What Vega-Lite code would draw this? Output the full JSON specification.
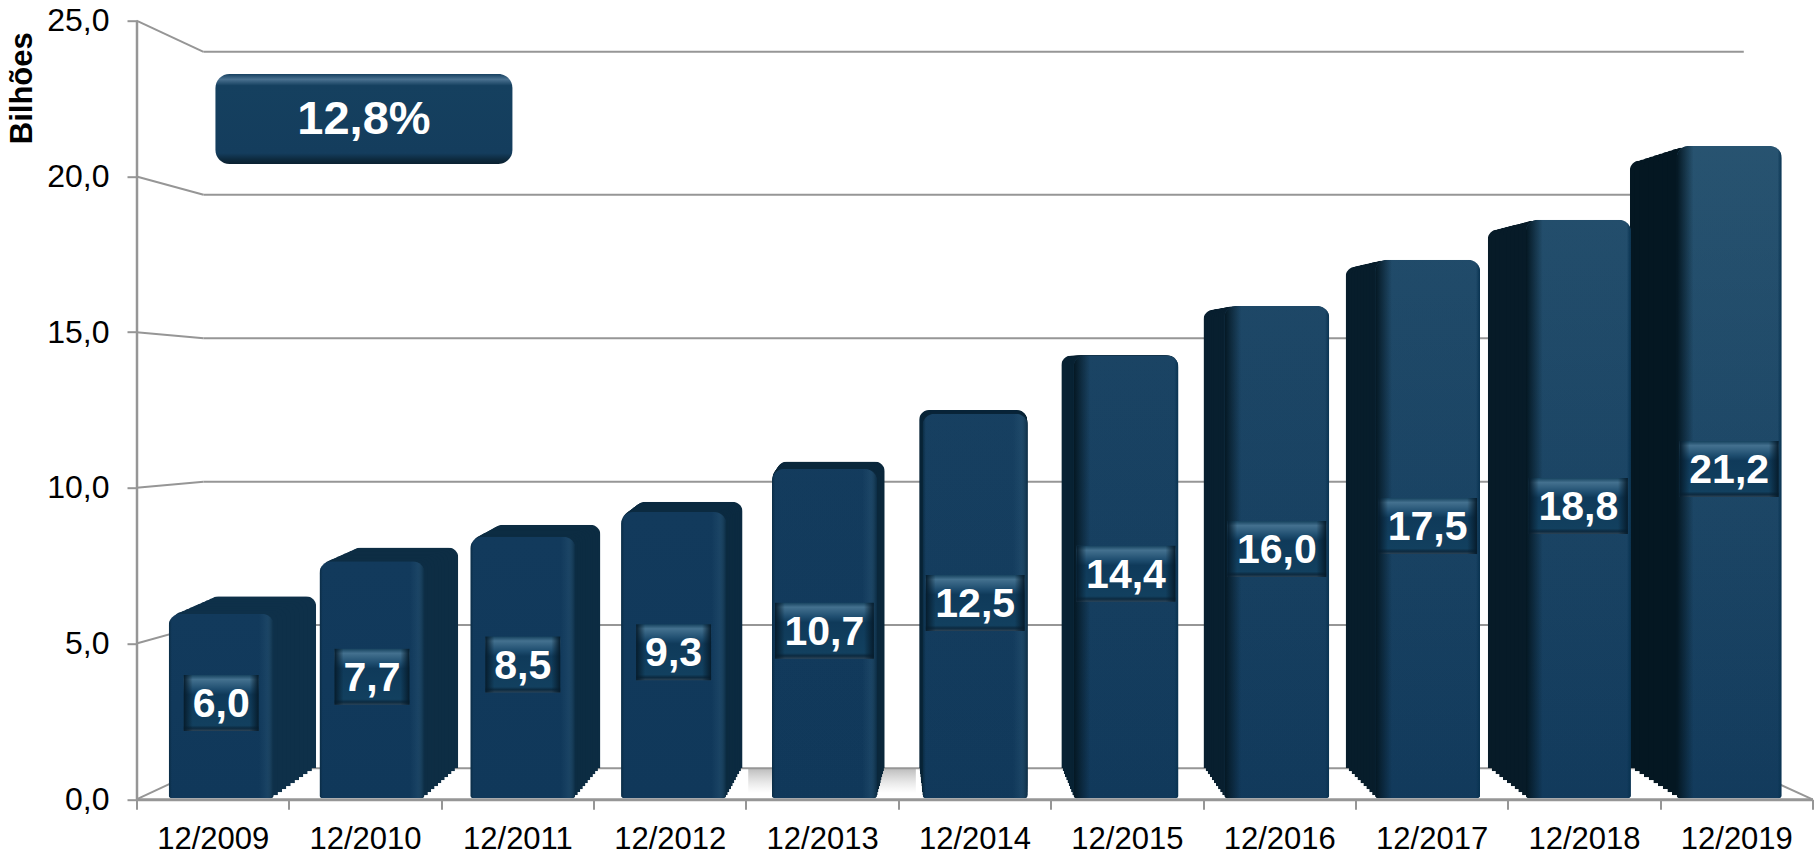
{"$schema":"https://vega.github.io/schema/vega-lite/v6.json","width":1676,"height":778.6,"autosize":{"type":"none"},"padding":{"left":136.5,"top":20.7,"right":3.5,"bottom":55.7},"background":"#ffffff","config":{"view":{"stroke":null},"font":"Liberation Sans"},"datasets":{"barras":[{"ano":"12/2009","valor":6.0,"rotulo":"6,0"},{"ano":"12/2010","valor":7.7,"rotulo":"7,7"},{"ano":"12/2011","valor":8.5,"rotulo":"8,5"},{"ano":"12/2012","valor":9.3,"rotulo":"9,3"},{"ano":"12/2013","valor":10.7,"rotulo":"10,7"},{"ano":"12/2014","valor":12.5,"rotulo":"12,5"},{"ano":"12/2015","valor":14.4,"rotulo":"14,4"},{"ano":"12/2016","valor":16.0,"rotulo":"16,0"},{"ano":"12/2017","valor":17.5,"rotulo":"17,5"},{"ano":"12/2018","valor":18.8,"rotulo":"18,8"},{"ano":"12/2019","valor":21.2,"rotulo":"21,2"}],"grade":[{"tick":0,"parede":1.0},{"tick":5,"parede":5.6},{"tick":10,"parede":10.2},{"tick":15,"parede":14.8},{"tick":20,"parede":19.41},{"tick":25,"parede":24.0}],"destaque":[{"rotulo":"12,8%"}]},"layer":[{"data":{"name":"barras"},"mark":{"type":"bar","opacity":0},"encoding":{"x":{"field":"ano","type":"nominal","scale":{"type":"band","range":[0,1676],"paddingInner":0,"paddingOuter":0},"axis":{"title":null,"labelAngle":0,"labelFont":"Liberation Sans","labelFontSize":31,"labelColor":"#000000","labelPadding":15,"tickBand":"extent","tickSize":10,"tickWidth":2,"tickColor":"#969696","domainColor":"#969696","domainWidth":3}},"y":{"field":"valor","type":"quantitative","scale":{"domain":[0,25],"nice":false},"axis":{"title":"Bilhões","titleFont":"Liberation Sans","titleFontSize":31,"titleFontWeight":"bold","titleColor":"#000000","titleX":-98,"titleY":67,"values":[0,5,10,15,20,25],"labelExpr":"replace(format(datum.value,'.1f'),'.',',')","labelFont":"Liberation Sans","labelFontSize":32,"labelColor":"#000000","labelPadding":18,"tickSize":9.5,"tickWidth":2,"tickColor":"#969696","domainColor":"#969696","domainWidth":2.5,"grid":false}}}},{"data":{"name":"destaque"},"mark":{"type":"rect","color":{"gradient":"linear","x1":0,"x2":0,"y1":0,"y2":1,"stops":[{"offset":0,"color":"rgba(170,170,170,0.8)"},{"offset":1,"color":"rgba(200,200,200,0)"}]}},"encoding":{"x":{"datum":36.5,"type":"quantitative","scale":{"domain":[0,100]},"axis":null},"x2":{"datum":46.5},"y":{"datum":1.0,"type":"quantitative","scale":{"domain":[0,25],"nice":false},"axis":null},"y2":{"datum":0.2}}},{"data":{"name":"grade"},"mark":{"type":"rule","color":"#969696","strokeWidth":2},"encoding":{"x":{"datum":0,"type":"quantitative","scale":{"domain":[0,100]},"axis":null},"x2":{"datum":4},"y":{"field":"tick","type":"quantitative","scale":{"domain":[0,25],"nice":false},"axis":null},"y2":{"field":"parede"}}},{"data":{"name":"grade"},"mark":{"type":"rule","color":"#969696","strokeWidth":2},"encoding":{"x":{"datum":4,"type":"quantitative","scale":{"domain":[0,100]},"axis":null},"x2":{"datum":95.9},"y":{"field":"parede","type":"quantitative","scale":{"domain":[0,25],"nice":false},"axis":null}}},{"data":{"name":"grade"},"transform":[{"filter":{"field":"tick","equal":0}}],"mark":{"type":"rule","color":"#969696","strokeWidth":2},"encoding":{"x":{"datum":95.9,"type":"quantitative","scale":{"domain":[0,100]},"axis":null},"x2":{"datum":100},"y":{"field":"parede","type":"quantitative","scale":{"domain":[0,25],"nice":false},"axis":null},"y2":{"field":"tick"}}},{"data":{"name":"barras"},"mark":{"type":"bar","width":107.7,"cornerRadiusTopLeft":10,"cornerRadiusTopRight":10},"encoding":{"x":{"field":"ano","type":"nominal","scale":{"type":"band","range":[54.7,1618.3],"paddingInner":0,"paddingOuter":0},"axis":null},"y":{"field":"valor","type":"quantitative","scale":{"domain":[0,25],"range":[747.6,31],"nice":false},"axis":null},"color":{"field":"valor","type":"quantitative","scale":{"domain":[6,21.2],"range":["#0e3049","#041722"]},"legend":null}}},{"data":{"name":"barras"},"mark":{"type":"bar","width":107.4,"cornerRadiusTopLeft":10,"cornerRadiusTopRight":10},"encoding":{"x":{"field":"ano","type":"nominal","scale":{"type":"band","range":[50.2,1623.3],"paddingInner":0,"paddingOuter":0},"axis":null},"y":{"field":"valor","type":"quantitative","scale":{"domain":[0,25],"range":[750.6,28.7],"nice":false},"axis":null},"color":{"field":"valor","type":"quantitative","scale":{"domain":[6,21.2],"range":["#0e3049","#041722"]},"legend":null}}},{"data":{"name":"barras"},"mark":{"type":"bar","width":107.2,"cornerRadiusTopLeft":10,"cornerRadiusTopRight":10},"encoding":{"x":{"field":"ano","type":"nominal","scale":{"type":"band","range":[45.6,1628.3],"paddingInner":0,"paddingOuter":0},"axis":null},"y":{"field":"valor","type":"quantitative","scale":{"domain":[0,25],"range":[753.6,26.5],"nice":false},"axis":null},"color":{"field":"valor","type":"quantitative","scale":{"domain":[6,21.2],"range":["#0e3049","#041722"]},"legend":null}}},{"data":{"name":"barras"},"mark":{"type":"bar","width":106.9,"cornerRadiusTopLeft":10,"cornerRadiusTopRight":10},"encoding":{"x":{"field":"ano","type":"nominal","scale":{"type":"band","range":[41.1,1633.2],"paddingInner":0,"paddingOuter":0},"axis":null},"y":{"field":"valor","type":"quantitative","scale":{"domain":[0,25],"range":[756.6,24.2],"nice":false},"axis":null},"color":{"field":"valor","type":"quantitative","scale":{"domain":[6,21.2],"range":["#0e3049","#041722"]},"legend":null}}},{"data":{"name":"barras"},"mark":{"type":"bar","width":106.6,"cornerRadiusTopLeft":10,"cornerRadiusTopRight":10},"encoding":{"x":{"field":"ano","type":"nominal","scale":{"type":"band","range":[36.5,1638.2],"paddingInner":0,"paddingOuter":0},"axis":null},"y":{"field":"valor","type":"quantitative","scale":{"domain":[0,25],"range":[759.6,21.9],"nice":false},"axis":null},"color":{"field":"valor","type":"quantitative","scale":{"domain":[6,21.2],"range":["#0e3049","#041722"]},"legend":null}}},{"data":{"name":"barras"},"mark":{"type":"bar","width":106.35,"cornerRadiusTopLeft":10,"cornerRadiusTopRight":10},"encoding":{"x":{"field":"ano","type":"nominal","scale":{"type":"band","range":[32.0,1643.2],"paddingInner":0,"paddingOuter":0},"axis":null},"y":{"field":"valor","type":"quantitative","scale":{"domain":[0,25],"range":[762.6,19.65],"nice":false},"axis":null},"color":{"field":"valor","type":"quantitative","scale":{"domain":[6,21.2],"range":["#0e3049","#041722"]},"legend":null}}},{"data":{"name":"barras"},"mark":{"type":"bar","width":106.1,"cornerRadiusTopLeft":10,"cornerRadiusTopRight":10},"encoding":{"x":{"field":"ano","type":"nominal","scale":{"type":"band","range":[27.5,1648.2],"paddingInner":0,"paddingOuter":0},"axis":null},"y":{"field":"valor","type":"quantitative","scale":{"domain":[0,25],"range":[765.6,17.4],"nice":false},"axis":null},"color":{"field":"valor","type":"quantitative","scale":{"domain":[6,21.2],"range":["#0e3049","#041722"]},"legend":null}}},{"data":{"name":"barras"},"mark":{"type":"bar","width":105.8,"cornerRadiusTopLeft":10,"cornerRadiusTopRight":10},"encoding":{"x":{"field":"ano","type":"nominal","scale":{"type":"band","range":[22.9,1653.2],"paddingInner":0,"paddingOuter":0},"axis":null},"y":{"field":"valor","type":"quantitative","scale":{"domain":[0,25],"range":[768.6,15.1],"nice":false},"axis":null},"color":{"field":"valor","type":"quantitative","scale":{"domain":[6,21.2],"range":["#0e3049","#041722"]},"legend":null}}},{"data":{"name":"barras"},"mark":{"type":"bar","width":105.5,"cornerRadiusTopLeft":10,"cornerRadiusTopRight":10},"encoding":{"x":{"field":"ano","type":"nominal","scale":{"type":"band","range":[18.4,1658.1],"paddingInner":0,"paddingOuter":0},"axis":null},"y":{"field":"valor","type":"quantitative","scale":{"domain":[0,25],"range":[771.6,12.8],"nice":false},"axis":null},"color":{"field":"valor","type":"quantitative","scale":{"domain":[6,21.2],"range":["#0e3049","#041722"]},"legend":null}}},{"data":{"name":"barras"},"mark":{"type":"bar","width":105.3,"cornerRadiusTopLeft":10,"cornerRadiusTopRight":10},"encoding":{"x":{"field":"ano","type":"nominal","scale":{"type":"band","range":[13.8,1663.1],"paddingInner":0,"paddingOuter":0},"axis":null},"y":{"field":"valor","type":"quantitative","scale":{"domain":[0,25],"range":[774.6,10.6],"nice":false},"axis":null},"color":{"field":"valor","type":"quantitative","scale":{"domain":[6,21.2],"range":["#0e3049","#041722"]},"legend":null}}},{"data":{"name":"barras"},"mark":{"type":"bar","width":105,"cornerRadiusTopLeft":12,"cornerRadiusTopRight":12,"cornerRadiusBottomLeft":3,"cornerRadiusBottomRight":3,"color":{"gradient":"linear","x1":0,"x2":0,"y1":0,"y2":1,"stops":[{"offset":0,"color":"#123a5c"},{"offset":1,"color":"#10385a"}]}},"encoding":{"x":{"field":"ano","type":"nominal","scale":{"type":"band","range":[9.3,1668.1],"paddingInner":0,"paddingOuter":0},"axis":null},"y":{"field":"valor","type":"quantitative","scale":{"domain":[0,25],"range":[777.6,8.3],"nice":false},"axis":null}}},{"data":{"name":"barras"},"mark":{"type":"bar","width":105,"cornerRadiusTopLeft":12,"cornerRadiusTopRight":12,"cornerRadiusBottomLeft":3,"cornerRadiusBottomRight":3,"color":{"gradient":"linear","x1":0,"x2":0,"y1":0,"y2":1,"stops":[{"offset":0,"color":"rgba(80,130,150,0.35)"},{"offset":1,"color":"rgba(80,130,150,0.04)"}]}},"encoding":{"x":{"field":"ano","type":"nominal","scale":{"type":"band","range":[9.3,1668.1],"paddingInner":0,"paddingOuter":0},"axis":null},"y":{"field":"valor","type":"quantitative","scale":{"domain":[0,25],"range":[777.6,8.3],"nice":false},"axis":null},"opacity":{"field":"valor","type":"quantitative","scale":{"domain":[10,21.2],"range":[0,1],"clamp":true},"legend":null}}},{"data":{"name":"barras"},"transform":[{"filter":"datum.valor>=14"}],"mark":{"type":"bar","width":105,"cornerRadiusTopLeft":12,"cornerRadiusTopRight":12,"cornerRadiusBottomLeft":3,"cornerRadiusBottomRight":3,"color":{"gradient":"linear","x1":0,"x2":1,"y1":0,"y2":0,"stops":[{"offset":0,"color":"rgba(4,23,34,1)"},{"offset":0.16,"color":"rgba(4,23,34,0)"},{"offset":0.96,"color":"rgba(8,50,80,0)"},{"offset":1,"color":"rgba(8,50,80,1)"}]}},"encoding":{"x":{"field":"ano","type":"nominal","scale":{"type":"band","domain":["12/2009","12/2010","12/2011","12/2012","12/2013","12/2014","12/2015","12/2016","12/2017","12/2018","12/2019"],"range":[9.3,1668.1],"paddingInner":0,"paddingOuter":0},"axis":null},"y":{"field":"valor","type":"quantitative","scale":{"domain":[0,25],"range":[777.6,8.3],"nice":false},"axis":null}}},{"data":{"name":"barras"},"transform":[{"filter":"datum.valor<14"}],"mark":{"type":"bar","width":105,"cornerRadiusTopLeft":12,"cornerRadiusTopRight":12,"cornerRadiusBottomLeft":3,"cornerRadiusBottomRight":3,"color":{"gradient":"linear","x1":0,"x2":1,"y1":0,"y2":0,"stops":[{"offset":0,"color":"rgba(8,40,62,0.8)"},{"offset":0.03,"color":"rgba(8,40,62,0)"},{"offset":0.86,"color":"rgba(50,95,125,0)"},{"offset":0.93,"color":"rgba(50,95,125,0.25)"},{"offset":1,"color":"rgba(10,42,64,0.9)"}]}},"encoding":{"x":{"field":"ano","type":"nominal","scale":{"type":"band","domain":["12/2009","12/2010","12/2011","12/2012","12/2013","12/2014","12/2015","12/2016","12/2017","12/2018","12/2019"],"range":[9.3,1668.1],"paddingInner":0,"paddingOuter":0},"axis":null},"y":{"field":"valor","type":"quantitative","scale":{"domain":[0,25],"range":[777.6,8.3],"nice":false},"axis":null}}},{"data":{"name":"barras"},"transform":[{"filter":"datum.valor<10"}],"mark":{"type":"rect","width":75,"height":56,"color":{"gradient":"linear","x1":0,"x2":0,"y1":0,"y2":1,"stops":[{"offset":0,"color":"#17435f"},{"offset":0.08,"color":"#44718f"},{"offset":0.25,"color":"#1f4e70"},{"offset":0.35,"color":"#0f3a5a"},{"offset":0.9,"color":"#12405f"},{"offset":0.95,"color":"#0c2a40"},{"offset":1,"color":"#2d4456"}]}},"encoding":{"x":{"field":"ano","type":"nominal","scale":{"type":"band","domain":["12/2009","12/2010","12/2011","12/2012","12/2013","12/2014","12/2015","12/2016","12/2017","12/2018","12/2019"],"range":[9.3,1668.1],"paddingInner":0,"paddingOuter":0},"axis":null},"y":{"field":"valor","type":"quantitative","scale":{"domain":[0,50],"range":[774.6,5.3],"nice":false},"axis":null}}},{"data":{"name":"barras"},"transform":[{"filter":"datum.valor<10"}],"mark":{"type":"rect","width":75,"height":56,"color":{"gradient":"linear","x1":0,"x2":1,"y1":0,"y2":0,"stops":[{"offset":0,"color":"rgba(6,28,44,1)"},{"offset":0.12,"color":"rgba(6,28,44,0)"},{"offset":0.88,"color":"rgba(6,28,44,0)"},{"offset":1,"color":"rgba(6,28,44,1)"}]}},"encoding":{"x":{"field":"ano","type":"nominal","scale":{"type":"band","domain":["12/2009","12/2010","12/2011","12/2012","12/2013","12/2014","12/2015","12/2016","12/2017","12/2018","12/2019"],"range":[9.3,1668.1],"paddingInner":0,"paddingOuter":0},"axis":null},"y":{"field":"valor","type":"quantitative","scale":{"domain":[0,50],"range":[774.6,5.3],"nice":false},"axis":null}}},{"data":{"name":"barras"},"transform":[{"filter":"datum.valor>=10"}],"mark":{"type":"rect","width":99,"height":56,"color":{"gradient":"linear","x1":0,"x2":0,"y1":0,"y2":1,"stops":[{"offset":0,"color":"#17435f"},{"offset":0.08,"color":"#44718f"},{"offset":0.25,"color":"#1f4e70"},{"offset":0.35,"color":"#0f3a5a"},{"offset":0.9,"color":"#12405f"},{"offset":0.95,"color":"#0c2a40"},{"offset":1,"color":"#2d4456"}]}},"encoding":{"x":{"field":"ano","type":"nominal","scale":{"type":"band","domain":["12/2009","12/2010","12/2011","12/2012","12/2013","12/2014","12/2015","12/2016","12/2017","12/2018","12/2019"],"range":[9.3,1668.1],"paddingInner":0,"paddingOuter":0},"axis":null},"y":{"field":"valor","type":"quantitative","scale":{"domain":[0,50],"range":[774.6,5.3],"nice":false},"axis":null}}},{"data":{"name":"barras"},"transform":[{"filter":"datum.valor>=10"}],"mark":{"type":"rect","width":99,"height":56,"color":{"gradient":"linear","x1":0,"x2":1,"y1":0,"y2":0,"stops":[{"offset":0,"color":"rgba(6,28,44,1)"},{"offset":0.1,"color":"rgba(6,28,44,0)"},{"offset":0.9,"color":"rgba(6,28,44,0)"},{"offset":1,"color":"rgba(6,28,44,1)"}]}},"encoding":{"x":{"field":"ano","type":"nominal","scale":{"type":"band","domain":["12/2009","12/2010","12/2011","12/2012","12/2013","12/2014","12/2015","12/2016","12/2017","12/2018","12/2019"],"range":[9.3,1668.1],"paddingInner":0,"paddingOuter":0},"axis":null},"y":{"field":"valor","type":"quantitative","scale":{"domain":[0,50],"range":[774.6,5.3],"nice":false},"axis":null}}},{"data":{"name":"barras"},"mark":{"type":"text","font":"Liberation Sans","fontSize":41,"fontWeight":"bold","color":"#ffffff","baseline":"middle","align":"center","dy":2},"encoding":{"x":{"field":"ano","type":"nominal","scale":{"type":"band","range":[9.3,1668.1],"paddingInner":0,"paddingOuter":0},"axis":null},"y":{"field":"valor","type":"quantitative","scale":{"domain":[0,50],"range":[774.6,5.3],"nice":false},"axis":null},"text":{"field":"rotulo"}}},{"data":{"name":"destaque"},"mark":{"type":"rect","cornerRadius":14,"color":{"gradient":"linear","x1":0,"x2":0,"y1":0,"y2":1,"stops":[{"offset":0,"color":"#164060"},{"offset":0.06,"color":"#4a7190"},{"offset":0.13,"color":"#15405f"},{"offset":0.88,"color":"#143d5d"},{"offset":0.95,"color":"#0d2a3e"},{"offset":1,"color":"#0a2030"}]}},"encoding":{"x":{"datum":4.71,"type":"quantitative","scale":{"domain":[0,100]},"axis":null},"x2":{"datum":22.43},"y":{"datum":23.29,"type":"quantitative","scale":{"domain":[0,25],"nice":false},"axis":null},"y2":{"datum":20.4}}},{"data":{"name":"destaque"},"mark":{"type":"text","font":"Liberation Sans","fontSize":47,"fontWeight":"bold","color":"#ffffff","baseline":"middle","align":"center","dy":1},"encoding":{"x":{"datum":13.57,"type":"quantitative","scale":{"domain":[0,100]},"axis":null},"y":{"datum":21.85,"type":"quantitative","scale":{"domain":[0,25],"nice":false},"axis":null},"text":{"field":"rotulo"}}}],"resolve":{"scale":{"x":"independent","y":"independent","color":"independent","opacity":"independent"},"axis":{"x":"independent","y":"independent"}}}
